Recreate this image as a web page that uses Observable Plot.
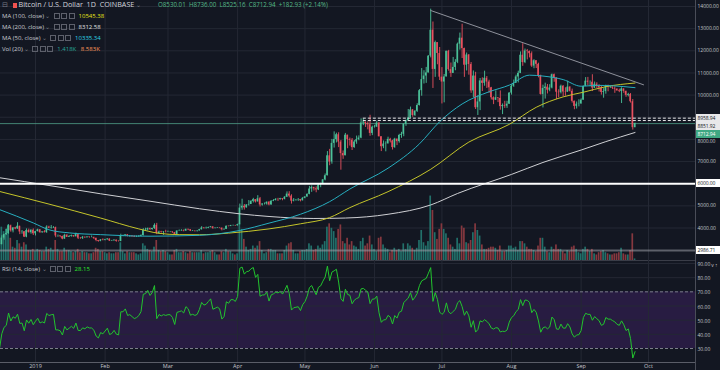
<!DOCTYPE html>
<html><head><meta charset="utf-8">
<script src="https://cdn.jsdelivr.net/npm/d3@7"></script>
<script src="https://cdn.jsdelivr.net/npm/@observablehq/plot@0.6"></script>
<style>
html,body{margin:0;padding:0;background:#131722;}
#chart{position:relative;width:720px;height:370px;overflow:hidden;background:#131722;font-family:"Open Sans",sans-serif;}
.row{position:absolute;left:2px;white-space:nowrap;font-size:6px;line-height:8px;color:#c8cad0;}
.ic{display:inline-block;width:4px;height:4px;border:1px solid #5d606b;margin-left:1.5px;vertical-align:-0.5px;}
.val{margin-left:4px;}
.plab{position:absolute;left:696px;width:24px;height:8px;font-size:5px;line-height:8px;padding-left:1.5px;box-sizing:border-box;letter-spacing:-0.1px;white-space:nowrap;}
</style></head><body><div id="chart"></div>
<script>
// ---------- DATA (daily, COINBASE BTC/USD, 2018-12-16 .. 2019-09-25) ----------
const firstDay = "2018-12-16";
// closes before the visible window (2018-10-27 .. 2018-12-15), used only for RSI warm-up
const closesPrior = [6480,6470,6260,6270,6300,
 6340,6350,6330,6460,6400,6450,6530,6420,6350,6380,6370,6340,6290,5630,5620,5550,5560,5610,4800,4450,4600,4350,4320,3860,4000,3770,3840,4250,4270,4020,
 4200,4140,3840,3950,3750,3500,3400,3410,3570,3450,3390,3490,3250,3180,3190];
const closes = [
 3250,3545,3700,3750,4100,3870,4000,3960,4080,3820,3830,3590,3890,3790,3900,3740,
 3840,3920,3790,3820,3790,4040,3990,4010,4020,3640,3640,3615,3500,3670,3580,3615,3650,3605,3700,3540,3535,3580,3560,3590,3570,3570,3535,3435,3400,3460,3440,
 3470,3500,3410,3420,3450,3400,3390,3650,3650,3690,3620,3630,3610,3590,3600,3620,3660,3900,3910,3970,3930,3980,4120,3750,3820,3800,3820,3810,
 3820,3820,3790,3710,3860,3870,3880,3860,3940,3920,3860,3870,3860,3870,3920,4000,3980,3990,4020,4050,3980,3990,4000,3990,3920,3940,4080,4070,4110,4110,4100,
 4150,4900,4980,4910,5040,5060,5200,5280,5180,5320,5040,5080,5080,5160,5040,5210,5240,5290,5280,5320,5290,5390,5530,5440,5210,5260,5270,5280,5230,5340,
 5400,5520,5760,5830,5770,5720,5940,5990,6170,6360,7260,6980,7820,7990,8210,7880,7360,7260,8190,7990,7960,7630,7880,7990,8060,8740,8780,8720,8660,8270,8550,
 8560,8740,8120,7670,7790,7800,8000,7930,7630,8010,7900,8180,8230,8690,8840,8970,9330,9080,9270,9530,10200,10700,10860,11000,11760,12930,11160,12370,11880,10810,
 10590,10820,11980,11150,10980,11250,11480,12300,12570,12100,11350,11810,11380,10190,10860,9430,9690,10640,10530,10760,10590,10330,9880,9770,9880,9850,9480,9530,9500,9590,10090,
 10400,10530,10820,10980,11800,11470,11990,11970,11870,11310,11550,11390,10870,10030,10300,10360,10220,10320,10920,10760,10130,10110,10400,10140,10130,10360,10170,9720,9490,9590,9600,
 9770,10390,10630,10580,10580,10320,10490,10400,10320,10120,10160,10420,10360,10360,10310,10270,10190,10160,10280,10170,9990,10030,9700,8530.01,8712.94];
const highs = [
 3310,3650,3720,3950,4150,4130,4020,4030,4240,4080,3890,3840,3960,3950,3920,3960,
 3850,3950,3930,3840,3880,4100,4080,4110,4060,4040,3680,3650,3630,3720,3700,3660,3680,3660,3770,3720,3570,3620,3600,3610,3600,3640,3590,3540,3440,3480,3510,
 3490,3520,3510,3440,3470,3460,3420,3720,3680,3700,3700,3660,3660,3650,3640,3660,3690,3970,3990,4000,4000,3990,4190,4210,3860,3850,3840,3900,
 3860,3840,3830,3800,3880,3910,3920,3910,3950,3950,3930,3890,3880,3890,3940,4060,4020,4040,4040,4070,4060,4010,4020,4010,4000,3960,4090,4090,4120,4130,4120,
 4170,5080,5300,5060,5050,5240,5240,5340,5280,5460,5380,5100,5130,5180,5200,5230,5280,5330,5340,5340,5330,5420,5630,5640,5500,5330,5290,5330,5290,5380,
 5420,5540,5880,5900,5840,5860,5990,6020,6190,6440,7450,7550,8000,8340,8280,8300,7950,7480,8270,8150,8060,8040,7950,8150,8160,8930,8930,8780,8790,9090,8600,
 8630,8820,8760,8110,7930,7890,8100,8050,7960,8050,8020,8230,8320,8700,8880,9350,9460,9350,9300,9610,10250,11200,11100,11250,11780,13880,13300,12440,12350,12150,
 11240,10930,11980,12020,11450,11700,11600,12350,12800,13200,12120,11900,11830,11470,11090,11030,9970,10750,10780,11080,10840,10670,10350,9920,10190,9880,10190,9600,9720,9720,10110,
 10470,10680,10900,11080,11950,12320,12080,12060,11990,11950,11600,11560,11440,10900,10450,10540,10480,10470,10950,10950,10780,10240,10450,10430,10330,10630,10380,10270,9730,9690,9790,
 9830,10410,10790,10800,10640,10920,10590,10560,10470,10390,10290,10450,10450,10390,10370,10370,10280,10270,10330,10250,10180,10080,10070,9800,8736];
const lows = [
 3180,3240,3450,3670,3720,3810,3780,3920,3940,3700,3720,3570,3560,3770,3720,3660,
 3640,3820,3760,3760,3780,3760,3970,3950,3980,3560,3580,3560,3470,3490,3570,3580,3590,3580,3600,3480,3490,3480,3530,3550,3540,3560,3480,3380,3360,3380,3420,
 3420,3450,3390,3390,3410,3360,3370,3380,3610,3610,3600,3580,3580,3570,3570,3590,3600,3640,3850,3870,3890,3900,3940,3700,3730,3770,3670,3780,
 3800,3790,3760,3700,3700,3850,3850,3830,3850,3880,3840,3840,3820,3820,3860,3910,3950,3950,3970,4010,3940,3960,3980,3970,3870,3900,3930,4050,4060,4080,4080,
 4090,4140,4800,4810,4900,4990,5060,5130,5130,5170,4950,4990,5040,5030,5000,5030,5190,5220,5200,5260,5230,5270,5380,5360,5080,5180,5210,5200,5180,5220,
 5320,5390,5500,5610,5670,5590,5690,5820,5970,6130,6350,6810,6880,7610,7840,7630,6610,7100,7270,7580,7700,7500,7600,7780,7940,8030,8620,8540,8430,8140,8170,
 8510,8540,8110,7450,7580,7440,7790,7840,7520,7600,7720,7830,8050,8120,8590,8830,8950,9000,9030,9220,9510,9950,10500,10530,11000,11680,10300,10800,11370,10660,
 9600,9650,10820,11080,10800,10980,11100,11420,12030,11650,10800,11090,10900,10080,9880,9350,9080,9300,10160,10400,10300,10080,9780,9570,9760,9660,9320,9120,9400,9400,9580,
 10000,10350,10530,10550,10970,11300,11420,11590,11680,11250,11190,11200,10780,10000,9420,9820,10050,10150,10280,10580,9790,9880,10050,9920,9950,10140,10140,9640,9340,9370,9470,
 9590,9780,10380,10420,10380,10160,10300,10300,10140,10000,9860,10040,10150,10300,10250,10080,10180,10110,9620,10080,9900,9920,9640,8420,8525.16];
// volume, thousands of BTC
const volumes = [
 14,30,26,28,32,20,12,11,18,15,12,16,14,9,9,10,
 8,10,9,8,8,12,10,11,9,18,10,8,8,11,9,9,8,7,8,10,7,8,7,7,6,6,7,11,10,8,8,
 7,6,7,6,6,7,7,16,8,6,8,7,7,7,6,5,6,15,13,10,9,8,12,18,9,8,9,8,
 7,5,5,9,10,7,7,8,7,6,8,7,7,7,7,9,6,7,7,8,9,7,5,5,8,7,10,8,8,6,5,
 6,33,28,19,12,9,10,13,11,13,17,9,6,7,10,10,9,9,6,6,6,9,13,15,16,9,6,6,8,9,
 9,10,15,13,9,10,13,11,14,17,30,33,29,26,20,28,32,17,15,20,14,17,13,12,10,17,20,13,15,22,14,
 10,8,20,21,14,11,10,7,9,11,9,10,8,15,10,15,13,11,9,11,18,27,16,13,17,58,45,25,19,28,
 33,28,24,20,14,12,10,20,15,31,29,16,15,18,25,33,27,22,14,10,10,11,12,12,11,9,13,8,8,9,13,
 13,11,12,9,17,17,15,12,10,10,9,8,13,20,20,12,8,7,12,10,14,10,10,8,6,9,8,12,13,10,7,
 6,10,12,10,8,10,6,5,7,8,9,7,6,5,5,6,6,7,11,6,5,5,9,24,1.418];
// moving averages
const ma200 = [["2018-12-16",6270],["2019-01-07",5920],["2019-01-30",5545],["2019-02-21",5210],["2019-03-15",4870],["2019-04-02",4640],["2019-04-15",4520],["2019-05-05",4430],["2019-05-19",4450],["2019-06-07",4620],["2019-06-26",5040],["2019-07-08",5560],["2019-08-01",6420],["2019-08-15",6960],["2019-09-01",7520],["2019-09-12",7900],["2019-09-25",8312.58]];
const ma100 = [["2018-12-16",5650],["2019-01-07",5080],["2019-01-30",4450],["2019-02-16",3960],["2019-02-25",3760],["2019-03-06",3700],["2019-03-15",3695],["2019-03-28",3770],["2019-04-15",3960],["2019-04-29",4190],["2019-05-12",4470],["2019-05-21",4920],["2019-06-07",5640],["2019-06-26",6650],["2019-07-13",7880],["2019-07-31",8680],["2019-08-12",9450],["2019-08-24",9920],["2019-09-02",10130],["2019-09-12",10380],["2019-09-25",10545.38]];
const ma50 = [["2018-12-16",4830],["2018-12-31",4230],["2019-01-07",3920],["2019-01-16",3780],["2019-01-30",3700],["2019-02-21",3630],["2019-03-15",3670],["2019-04-02",3890],["2019-04-15",4220],["2019-04-29",4620],["2019-05-12",5190],["2019-05-21",5760],["2019-06-07",6700],["2019-06-21",7800],["2019-06-30",8800],["2019-07-10",9600],["2019-07-22",10150],["2019-07-31",10450],["2019-08-09",10900],["2019-08-15",10860],["2019-08-24",10700],["2019-09-01",10400],["2019-09-08",10440],["2019-09-15",10420],["2019-09-25",10335.34]];
const trendLine = [["2019-06-26",13820],["2019-09-28T19:00",10465]];
const levelSupport = 6000.00, levelLow = 2986.71, levelLast = 8712.94;
const dashedLevels = [8958.94, 8851.92];
const dashedFrom = "2019-05-27";
const priceTicks = [4000,5000,6000,7000,8000,9000,10000,11000,12000,13000,14000];
const rsiTicks = [30,40,50,60,70,80,90];
const rsiGrid = [40,50,60,80,90];
const monthTicks = ["2019-01-01","2019-02-01","2019-03-01","2019-04-01","2019-05-01","2019-06-01","2019-07-01","2019-08-01","2019-09-01","2019-10-01"];
const monthLabels = ["2019","Feb","Mar","Apr","May","Jun","Jul","Aug","Sep","Oct"];

// ---------- build ----------
const UP = "#4cc39a", DOWN = "#e9515f", GRID = "#242834";
const start = new Date(firstDay + "T00:00Z");
const candles = closes.map((c, i) => {
  const o = i === 0 ? closesPrior[closesPrior.length - 1] : closes[i - 1];
  return {date: d3.utcDay.offset(start, i), open: o, close: c,
          high: Math.max(highs[i], o, c), low: Math.min(lows[i], o, c), vol: volumes[i], up: c >= o};
});
// RSI(14), Wilder smoothing
const all = closesPrior.concat(closes);
const rsiAll = [];
let ag = 0, al = 0;
for (let i = 1; i < all.length; i++) {
  const ch = all[i] - all[i - 1], g = Math.max(ch, 0), l = Math.max(-ch, 0);
  if (i <= 14) { ag += g / 14; al += l / 14; if (i === 14) rsiAll[i] = 100 - 100 / (1 + ag / al); }
  else { ag = (ag * 13 + g) / 14; al = (al * 13 + l) / 14; rsiAll[i] = 100 - 100 / (1 + ag / al); }
}
const rsi = candles.map((d, i) => ({date: d.date, v: rsiAll[closesPrior.length + i]}));

const pd = s => new Date(s.length > 10 ? s + "Z" : s + "T00:00Z");
const months = monthTicks.map(pd);
const xDomain = [new Date(Date.UTC(2018, 11, 16, 9, 50)), new Date(Date.UTC(2019, 9, 21, 22, 20))];
const yPrice = [2533, 14271];
const common = {width: 720, marginLeft: 0, marginRight: 25, marginTop: 0,
  style: {background: "transparent", fontFamily: "'Open Sans', sans-serif", fontSize: "5px", color: "#b2b5be", overflow: "visible"}};
const x = {type: "utc", domain: xDomain, axis: null};

const chart = document.getElementById("chart");
function place(svg, top) { svg.style.position = "absolute"; svg.style.left = "0px"; svg.style.top = top + "px"; chart.appendChild(svg); return svg; }

// layer 1: price grid
place(Plot.plot({...common, height: 260, marginBottom: 0, x, y: {domain: yPrice, axis: null},
  marks: [Plot.ruleY(priceTicks, {stroke: GRID}), Plot.ruleX(months, {stroke: GRID})]}), 0);

// layer 2: volume
place(Plot.plot({...common, height: 260, marginBottom: 0, x, y: {domain: [0, 234], axis: null},
  marks: [Plot.rectY(candles, {x1: d => d3.utcHour.offset(d.date, -9), x2: d => d3.utcHour.offset(d.date, 9), y: "vol",
    fill: d => d.up ? "#22706a" : "#86383f"})]}), 0);

// layer 3: price
const maLine = (arr, color, w) => Plot.line(arr, {x: d => pd(d[0]), y: d => d[1], stroke: color, strokeWidth: w, curve: "monotone-x"});
const price = place(Plot.plot({...common, height: 260, marginBottom: 0, x, y: {domain: yPrice, axis: null},
  marks: [
    Plot.ruleY([levelLow], {stroke: "#9a9ca6", strokeWidth: 2, strokeOpacity: 0.55}),
    Plot.ruleY([levelLast], {stroke: "#4f9f88", strokeWidth: 1, strokeOpacity: 0.8}),
    Plot.ruleX(candles, {x: "date", y1: "low", y2: "high", stroke: d => d.up ? UP : DOWN, strokeWidth: 0.9}),
    Plot.rect(candles, {x1: d => d3.utcHour.offset(d.date, -8), x2: d => d3.utcHour.offset(d.date, 8), y1: "open", y2: "close", fill: d => d.up ? UP : DOWN}),
    maLine(ma200, "#cfd0d4", 1),
    maLine(ma100, "#c4c42a", 1),
    maLine(ma50, "#27aebf", 1),
    Plot.ruleY(dashedLevels, {x1: () => pd(dashedFrom), x2: () => xDomain[1], stroke: "#e8e8ea", strokeWidth: 1, strokeDasharray: "3,2"}),
    Plot.ruleY([levelSupport], {stroke: "#ffffff", strokeWidth: 2}),
    Plot.line(trendLine, {x: d => pd(d[0]), y: d => d[1], stroke: "#8e919b", strokeWidth: 1}),
    Plot.axisY(priceTicks.filter(t => t !== 9000 && t !== 8000), {anchor: "right", tickSize: 0, tickPadding: 2, tickFormat: d => d.toFixed(2), fill: "#c3c5cb", fontSize: 5, letterSpacing: "-0.1px"}),
    Plot.frame({anchor: "right", stroke: "#4a4d58"}),
    Plot.frame({anchor: "bottom", stroke: "#3a3d48"})
  ]}), 0);

// layer 4: RSI pane with x axis
const rsiPlot = place(Plot.plot({...common, height: 110, marginBottom: 8, x: {...x, axis: null}, y: {domain: [20.12, 92.12], axis: null},
  marks: [
    Plot.rect([0], {x1: () => xDomain[0], x2: () => xDomain[1], y1: () => 30, y2: () => 70, fill: "#281c42"}),
    Plot.ruleY(rsiGrid, {stroke: GRID}),
    Plot.ruleX(months, {stroke: GRID}),
    Plot.ruleY([30, 70], {stroke: "#7b7e89", strokeDasharray: "3,2"}),
    Plot.line(rsi.filter(d => d.v != null), {x: "date", y: "v", stroke: "#22c42e", strokeWidth: 1}),
    Plot.axisY(rsiTicks, {anchor: "right", tickSize: 0, tickPadding: 2, tickFormat: d => d.toFixed(2), fill: "#c3c5cb", fontSize: 5, dy: 1}),
    Plot.axisX(months, {anchor: "bottom", tickSize: 0, tickPadding: 2, tickFormat: (d, i) => monthLabels[i], fill: "#c3c5cb", fontSize: 5.5}),
    Plot.frame({anchor: "right", stroke: "#4a4d58"}),
    Plot.frame({anchor: "bottom", stroke: "#5a5d68"})
  ]}), 260);

// price labels on the right scale
const ys = price.scale("y");
const labs = [
  {v: dashedLevels[0], bg: "#e8e8ea", fg: "#131722"},
  {v: dashedLevels[1], bg: "#e8e8ea", fg: "#131722"},
  {v: levelLast, bg: "#3fa883", fg: "#ffffff"},
  {v: levelSupport, bg: "#ffffff", fg: "#131722"},
  {v: levelLow, bg: "#ffffff", fg: "#131722"}
];
let prevC = -100;
labs.forEach((l, i) => {
  let c = ys.apply(l.v);
  if (i < 3) { c = Math.max(c, prevC + 8); prevC = c; }
  const div = document.createElement("div");
  div.className = "plab";
  div.style.top = (c - 4) + "px"; div.style.background = l.bg; div.style.color = l.fg;
  div.textContent = l.v.toFixed(2);
  chart.appendChild(div);
});
// 8000 tick label, nudged just below the last-price tag so it stays readable
const tag8000 = document.createElement("div");
tag8000.className = "plab";
tag8000.style.cssText += ";top:" + (prevC + 4.5) + "px;color:#c3c5cb;height:6px;line-height:6px";
tag8000.textContent = (8000).toFixed(2);
chart.appendChild(tag8000);
// vertical separator in the time-axis strip
const sep = document.createElement("div");
sep.style.cssText = "position:absolute;left:695px;top:360px;width:1px;height:10px;background:#4a4d58";
chart.appendChild(sep);

// legend
const icons = '<span class="ic"></span><span class="ic"></span><span class="ic"></span>';
const rows = [
  {top: 0, html: '<span style="color:#787b86;font-size:7px">⊟</span> <span style="display:inline-block;width:4px;height:5px;background:#ef5350;margin:0 2px 0 3px;vertical-align:-0.5px"></span><span style="font-size:7.2px;color:#d1d4dc">Bitcoin / U.S. Dollar&nbsp;&nbsp;1D&nbsp;&nbsp;COINBASE</span> <span style="color:#787b86">⌄</span>'},
  {top: 12, html: 'MA (100, close) <span style="color:#787b86">⌄</span> ' + icons + '<span class="val" style="color:#e6e619">10545.38</span>'},
  {top: 23, html: 'MA (200, close) <span style="color:#787b86">⌄</span> ' + icons + '<span class="val" style="color:#e0e0e0">8312.58</span>'},
  {top: 34, html: 'MA (50, close) <span style="color:#787b86">⌄</span> ' + icons + '<span class="val" style="color:#2cd3e6">10335.34</span>'},
  {top: 45, html: 'Vol (20) <span style="color:#787b86">⌄</span> ' + icons + '<span class="val" style="color:#26a69a">1.418K</span> <span style="color:#ff9a5a;margin-left:3px">8.583K</span>'},
  {top: 265, html: 'RSI (14, close) <span style="color:#787b86">⌄</span> ' + icons + '<span class="val" style="color:#2ee62e">28.15</span>'}
];
rows.forEach(r => { const d = document.createElement("div"); d.className = "row"; d.style.top = r.top + "px"; d.innerHTML = r.html; chart.appendChild(d); });
const ohlc = document.createElement("div");
ohlc.className = "row";
ohlc.style.cssText = "left:158px;top:1px;color:#53b987;font-size:6.2px";
ohlc.textContent = "O8530.01\u00a0\u00a0H8736.00\u00a0\u00a0L8525.16\u00a0\u00a0C8712.94\u00a0\u00a0+182.93 (+2.14%)";
chart.appendChild(ohlc);
</script></body></html>
